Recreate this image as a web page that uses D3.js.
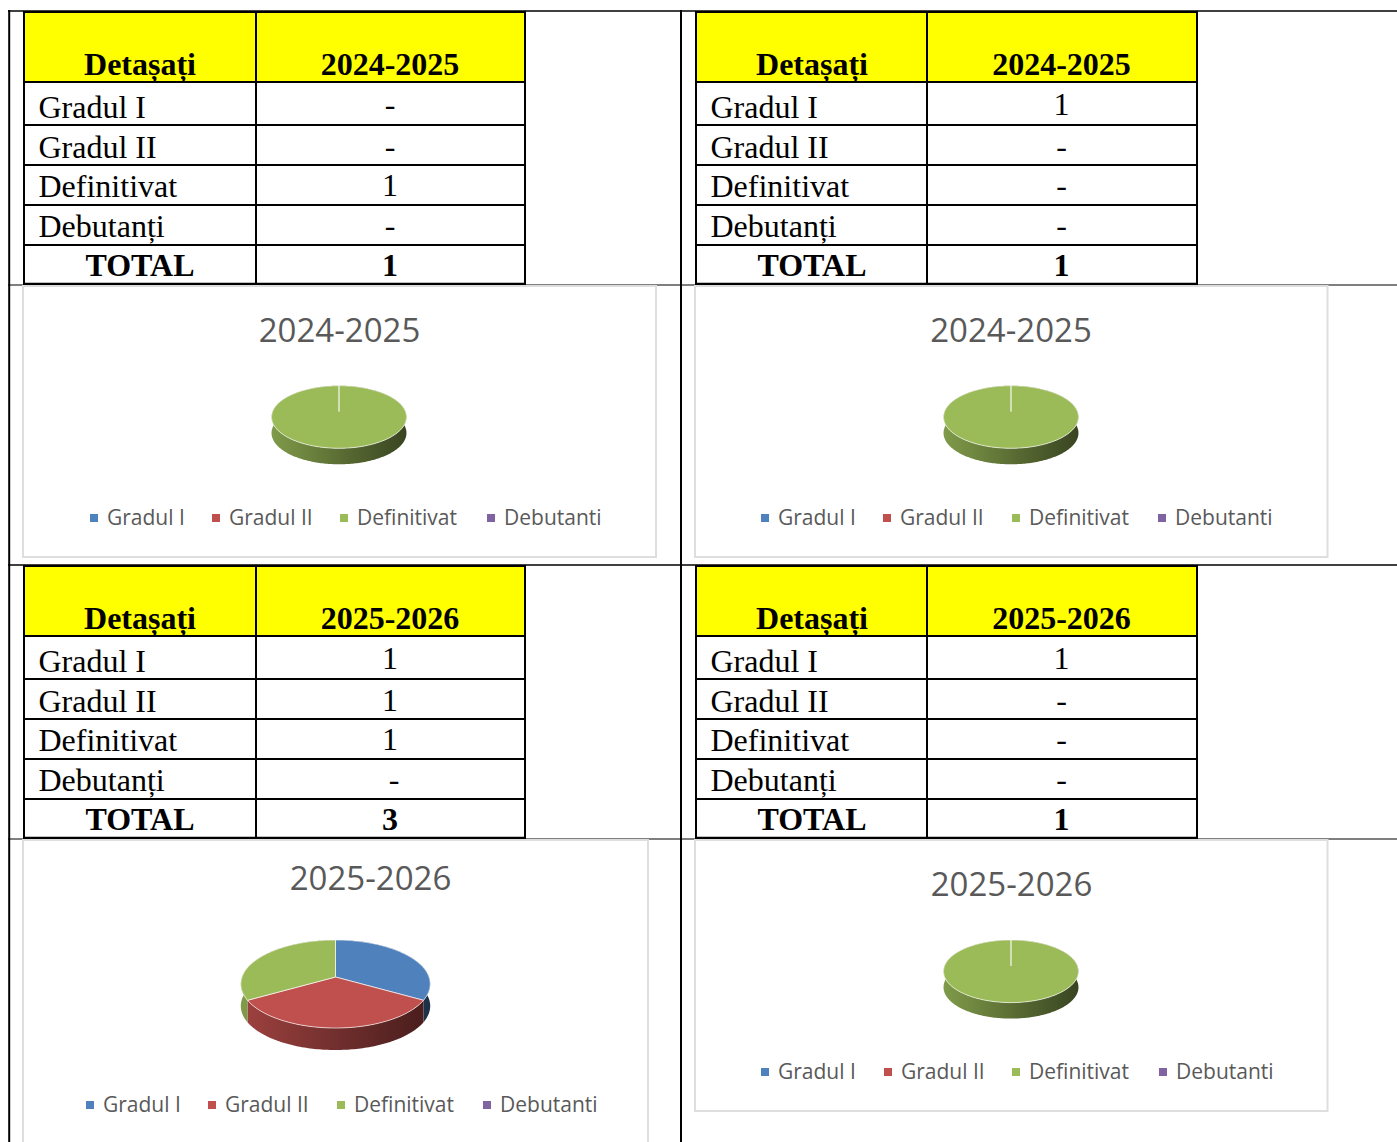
<!DOCTYPE html>
<html>
<head>
<meta charset="utf-8">
<script src="https://cdn.jsdelivr.net/npm/d3@7"></script>
<style>
    html, body { margin: 0; padding: 0; background: #fff; }
    svg { display: block; }
    .serif { font-family: "Liberation Serif", serif; fill: #000; }
    .sans { font-family: "Open Sans", sans-serif; fill: #595959; }
</style>
</head>
<body>
<div id="chart"></div>
<script>
// values
var categories = ["Gradul I", "Gradul II", "Definitivat", "Debutanti"];
var rowLabels = ["Gradul I", "Gradul II", "Definitivat", "Debutanți"];
var years = ["2024-2025", "2024-2025", "2025-2026", "2025-2026"];

// what the tables print
var tableA = ["-", "-", "1", "-"];
var tableB = ["1", "-", "-", "-"];
var tableC = ["1", "1", "1", "-"];
var tableD = ["1", "-", "-", "-"];
var totals = ["1", "1", "3", "1"];

// what the pies plot (the charts do not follow the tables everywhere)
var pieA = [0, 0, 1, 0];
var pieB = [0, 0, 1, 0];
var pieC = [1, 1, 1, 0];
var pieD = [0, 0, 1, 0];

var colors = ["#4f81bd", "#c0504d", "#9bbb59", "#8064a2"];

var width = 1397, height = 1142;

var svg = d3.select("#chart").append("svg")
    .attr("width", width)
    .attr("height", height);

var defs = svg.append("defs");

var layout = [
    {table: tableA, pie: pieA, x: 24, sep: 256, right: 525, valueX: 390, top: 12,
     box: [23, 286, 656, 557], titleX: 339.5, titleY: 342,
     geo: {cx: 339, cy: 411.7, rx: 66.5, ry: 30.4, p: .169, depth: 16},
     legendX: [90, 212, 340, 487], legendY: 525},
    {table: tableB, pie: pieB, x: 696, sep: 927, right: 1197, valueX: 1061.5, top: 12,
     box: [695, 286, 1327.5, 557], titleX: 1011, titleY: 342,
     geo: {cx: 1011, cy: 411.7, rx: 66.5, ry: 30.4, p: .169, depth: 16},
     legendX: [761, 883, 1012, 1158], legendY: 525},
    {table: tableC, pie: pieC, x: 24, sep: 256, right: 525, valueX: 390, top: 566,
     box: [23, 840, 648, 1160], titleX: 370.5, titleY: 890,
     geo: {cx: 335.5, cy: 977, rx: 93.5, ry: 42.9, p: .159, depth: 22},
     legendX: [86, 208, 337, 483], legendY: 1112},
    {table: tableD, pie: pieD, x: 696, sep: 927, right: 1197, valueX: 1061.5, top: 566,
     box: [695, 840, 1327.5, 1111], titleX: 1011.5, titleY: 896,
     geo: {cx: 1011, cy: 966, rx: 66.5, ry: 30.4, p: .169, depth: 16},
     legendX: [761, 884, 1012, 1159], legendY: 1079}
];

// row edges and text baselines, measured from the top of a table
var rowEdges = [70, 113, 153, 193, 233, 272];
var labelBase = [105.5, 145.5, 184.5, 224.5];
var valueBase = [103, 144.5, 184, 224];

var pie = d3.pie().sort(null).startAngle(0).endAngle(2 * Math.PI);

// one dash sits a little off center in the source
var valueNudge = function (p, i) { return p === 2 && i === 3 ? 4 : 0; };

drawFrame();
layout.forEach(function (d, i) {
    drawTable(d, i);
    drawBox(d, i);
});

function drawFrame() {
    var h = svg.append("g").attr("stroke", "#000");
    [11, 285, 565, 839].forEach(function (y) {
        h.append("line").attr("x1", 8).attr("x2", width).attr("y1", y).attr("y2", y)
            .attr("stroke-width", y === 285 || y === 839 ? 1.2 : 1.6);
    });
    [9.2, 681].forEach(function (x) {
        h.append("line").attr("x1", x).attr("x2", x).attr("y1", 10).attr("y2", height)
            .attr("stroke-width", 2);
    });
}

function drawTable(d, p) {
    var g = svg.append("g").attr("transform", "translate(0," + d.top + ")");

    g.append("rect")
        .attr("x", d.x).attr("y", 0)
        .attr("width", d.right - d.x).attr("height", rowEdges[0])
        .attr("fill", "#ffff00");

    g.selectAll(".row-line").data([0].concat(rowEdges)).enter().append("line")
        .attr("x1", d.x - 1).attr("x2", d.right + 1)
        .attr("y1", function (y) { return y; }).attr("y2", function (y) { return y; })
        .attr("stroke", "#000")
        .attr("stroke-width", function (y) { return y === rowEdges[5] ? 2.6 : 2; });

    g.selectAll(".col-line").data([d.x, d.sep, d.right]).enter().append("line")
        .attr("x1", function (x) { return x; }).attr("x2", function (x) { return x; })
        .attr("y1", 0).attr("y2", rowEdges[5])
        .attr("stroke", "#000").attr("stroke-width", 2);

    var left = d.x + 116;

    g.append("text").attr("class", "serif")
        .attr("x", left).attr("y", 63).attr("text-anchor", "middle")
        .style("font-size", "32px").style("font-weight", "bold")
        .text("Detașați");
    g.append("text").attr("class", "serif")
        .attr("x", d.valueX).attr("y", 63).attr("text-anchor", "middle")
        .style("font-size", "32px").style("font-weight", "bold")
        .text(years[p]);

    g.selectAll(".label").data(rowLabels).enter().append("text")
        .attr("class", "serif")
        .attr("x", d.x + 14.5)
        .attr("y", function (t, i) { return labelBase[i]; })
        .style("font-size", "32px")
        .text(function (t) { return t; });

    g.selectAll(".value").data(d.table).enter().append("text")
        .attr("class", "serif")
        .attr("x", function (t, i) { return d.valueX + valueNudge(p, i); })
        .attr("y", function (t, i) { return valueBase[i]; })
        .attr("text-anchor", "middle")
        .style("font-size", "32px")
        .text(function (t) { return t; });

    g.append("text").attr("class", "serif")
        .attr("x", left).attr("y", 264).attr("text-anchor", "middle")
        .style("font-size", "32px").style("font-weight", "bold")
        .text("TOTAL");
    g.append("text").attr("class", "serif")
        .attr("x", d.valueX).attr("y", 264).attr("text-anchor", "middle")
        .style("font-size", "32px").style("font-weight", "bold")
        .text(totals[p]);
}

function drawBox(d, p) {
    var b = d.box;
    var g = svg.append("g");

    g.append("rect")
        .attr("x", b[0]).attr("y", b[1])
        .attr("width", b[2] - b[0]).attr("height", b[3] - b[1])
        .attr("fill", "#fff").attr("stroke", "#dedede").attr("stroke-width", 2);

    g.append("text").attr("class", "sans")
        .attr("x", d.titleX).attr("y", d.titleY).attr("text-anchor", "middle")
        .style("font-size", "33px")
        .text(years[p]);

    drawPie(g, d, p);

    var legend = g.selectAll(".legend").data(categories).enter().append("g");
    legend.append("rect")
        .attr("x", function (t, i) { return d.legendX[i]; })
        .attr("y", d.legendY - 11)
        .attr("width", 8).attr("height", 8)
        .attr("fill", function (t, i) { return colors[i]; });
    legend.append("text").attr("class", "sans")
        .attr("x", function (t, i) { return d.legendX[i] + 17; })
        .attr("y", d.legendY)
        .style("font-size", "21px")
        .text(function (t) { return t; });
}

// a tilted disc: points on the rim are pulled through a small perspective
function rimPoint(geo, angle, drop) {
    var u = Math.sin(angle), v = -Math.cos(angle);
    var s = 1 / (1 - geo.p * v);
    return [geo.cx + geo.rx * u * s, geo.cy + geo.ry * v * s + (drop || 0)];
}

function rim(geo, a0, a1, drop) {
    var n = Math.max(2, Math.ceil((a1 - a0) / 0.02));
    return d3.range(n + 1).map(function (i) {
        return rimPoint(geo, a0 + (a1 - a0) * i / n, drop);
    });
}

function drawPie(g, d, p) {
    var geo = d.geo;
    var line = d3.line();
    var slices = pie(d.pie).filter(function (s) { return s.value > 0; });

    slices.forEach(function (s) {
        var id = "wall-" + p + "-" + s.index;
        var base = d3.color(colors[s.index]);
        var grad = defs.append("linearGradient").attr("id", id)
            .attr("gradientUnits", "userSpaceOnUse")
            .attr("x1", geo.cx - geo.rx).attr("x2", geo.cx + geo.rx)
            .attr("y1", 0).attr("y2", 0);
        grad.append("stop").attr("offset", 0).attr("stop-color", base.darker(.55));
        grad.append("stop").attr("offset", .55).attr("stop-color", base.darker(1.6));
        grad.append("stop").attr("offset", 1).attr("stop-color", base.darker(2.8));

        var top = rim(geo, s.startAngle, s.endAngle, 0);
        var bottom = rim(geo, s.startAngle, s.endAngle, geo.depth).reverse();
        g.append("path")
            .attr("d", line(top.concat(bottom)) + "Z")
            .attr("fill", "url(#" + id + ")");
    });

    slices.forEach(function (s) {
        var pts = [[geo.cx, geo.cy]].concat(rim(geo, s.startAngle, s.endAngle, 0));
        g.append("path")
            .attr("d", line(pts) + "Z")
            .attr("fill", colors[s.index])
            .attr("stroke", "#fff")
            .attr("stroke-opacity", .65)
            .attr("stroke-width", 1)
            .attr("stroke-linejoin", "round");
    });
}
</script>
</body>
</html>
